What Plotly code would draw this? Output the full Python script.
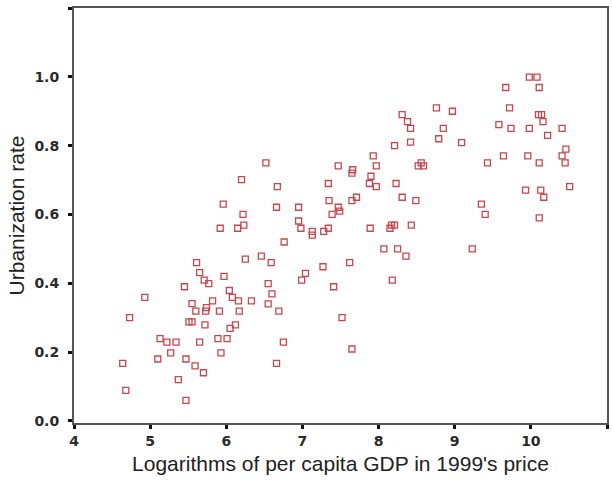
import plotly.graph_objects as go

log_gdp = [4.64, 4.68, 4.73, 4.93, 5.10, 5.13, 5.22, 5.27, 5.34, 5.37, 5.45, 5.47, 5.47, 5.51, 5.55,
           5.55, 5.59, 5.60, 5.61, 5.65, 5.65, 5.70, 5.71, 5.72, 5.73, 5.74, 5.77, 5.82, 5.91, 5.89,
           5.92, 5.93, 5.96, 5.97, 6.01, 6.04, 6.05, 6.08, 6.12, 6.15, 6.16, 6.17, 6.20, 6.22, 6.23,
           6.25, 6.33, 6.46, 6.52, 6.55, 6.55, 6.59, 6.60, 6.66, 6.66, 6.67, 6.69, 6.75, 6.76, 6.95,
           6.95, 6.98, 6.99, 7.04, 7.13, 7.13, 7.27, 7.28, 7.34, 7.34, 7.35, 7.39, 7.41, 7.47, 7.47,
           7.49, 7.52, 7.62, 7.65, 7.65, 7.66, 7.65, 7.71, 7.88, 7.89, 7.90, 7.93, 7.97, 7.97, 8.07,
           8.15, 8.17, 8.18, 8.21, 8.21, 8.23, 8.25, 8.31, 8.31, 8.36, 8.38, 8.42, 8.42, 8.43, 8.49,
           8.52, 8.56, 8.59, 8.76, 8.79, 8.85, 8.97, 9.09, 9.23, 9.35, 9.40, 9.43, 9.58, 9.64, 9.67,
           9.72, 9.74, 9.93, 9.96, 9.98, 9.98, 10.08, 10.10, 10.14, 10.11, 10.11, 10.11, 10.13, 10.16,
           10.17, 10.22, 10.41, 10.41, 10.45, 10.46, 10.51]
urban_rate = [0.167, 0.089, 0.300, 0.359, 0.180, 0.239, 0.229, 0.198, 0.229, 0.120, 0.390, 0.180, 0.060, 0.288, 0.288,
              0.341, 0.160, 0.319, 0.460, 0.431, 0.229, 0.140, 0.409, 0.279, 0.319, 0.329, 0.399, 0.349, 0.319, 0.239,
              0.560, 0.198, 0.630, 0.420, 0.239, 0.379, 0.269, 0.359, 0.279, 0.560, 0.349, 0.319, 0.701, 0.600, 0.569,
              0.470, 0.349, 0.479, 0.750, 0.399, 0.340, 0.460, 0.369, 0.167, 0.621, 0.681, 0.319, 0.229, 0.520, 0.621,
              0.581, 0.560, 0.409, 0.429, 0.551, 0.540, 0.448, 0.551, 0.690, 0.560, 0.640, 0.600, 0.390, 0.741, 0.621,
              0.610, 0.300, 0.460, 0.640, 0.720, 0.730, 0.209, 0.650, 0.690, 0.560, 0.711, 0.770, 0.741, 0.681, 0.500,
              0.560, 0.569, 0.409, 0.569, 0.800, 0.690, 0.500, 0.890, 0.650, 0.479, 0.870, 0.850, 0.810, 0.569, 0.640,
              0.741, 0.750, 0.741, 0.910, 0.820, 0.850, 0.900, 0.809, 0.500, 0.630, 0.600, 0.750, 0.861, 0.770, 0.969,
              0.910, 0.850, 0.671, 0.770, 0.999, 0.850, 0.999, 0.890, 0.890, 0.969, 0.750, 0.590, 0.671, 0.870,
              0.650, 0.830, 0.850, 0.770, 0.750, 0.790, 0.681]

x_ticks = [4, 5, 6, 7, 8, 9, 10, 11]
x_labels = ["4", "5", "6", "7", "8", "9", "10", "11"]
y_ticks = [0.0, 0.2, 0.4, 0.6, 0.8, 1.0, 1.2]
y_labels = ["0.0", "0.2", "0.4", "0.6", "0.8", "1.0", ""]

fig = go.Figure()
fig.add_trace(go.Scatter(
    x=log_gdp, y=urban_rate, mode="markers",
    marker=dict(symbol="square-open", size=6, color="#c9464f", line=dict(width=1.3, color="#c9464f")),
    hoverinfo="x+y", showlegend=False,
))

tickfont = dict(family="DejaVu Sans", size=14, color="#2a2a2a", weight="bold")
titlefont = dict(family="Liberation Sans, Arial", size=21, color="#222")

fig.update_layout(
    width=612, height=481,
    margin=dict(l=74, r=5, t=8, b=58),
    paper_bgcolor="white", plot_bgcolor="white",
    xaxis=dict(
        range=[4, 11], tickvals=x_ticks, ticktext=x_labels,
        showgrid=False, zeroline=False,
        showline=True, linecolor="#555", linewidth=2, mirror=True,
        ticks="outside", ticklen=4, tickwidth=3, tickcolor="#111",
        tickfont=tickfont,
        title=dict(text="Logarithms of per capita GDP in 1999's price", font=titlefont, standoff=9),
        automargin=False,
    ),
    yaxis=dict(
        range=[-0.006, 1.2], tickvals=y_ticks, ticktext=y_labels,
        showgrid=False, zeroline=False,
        showline=True, linecolor="#555", linewidth=2, mirror=True,
        ticks="outside", ticklen=4, tickwidth=3, tickcolor="#111",
        tickfont=tickfont, ticklabelstandoff=6,
        title=dict(text="Urbanization rate", font=titlefont, standoff=4),
        automargin=False,
    ),
)

fig.write_html("out.html", config={"displayModeBar": False},
               post_script="document.body.style.margin='0';")
